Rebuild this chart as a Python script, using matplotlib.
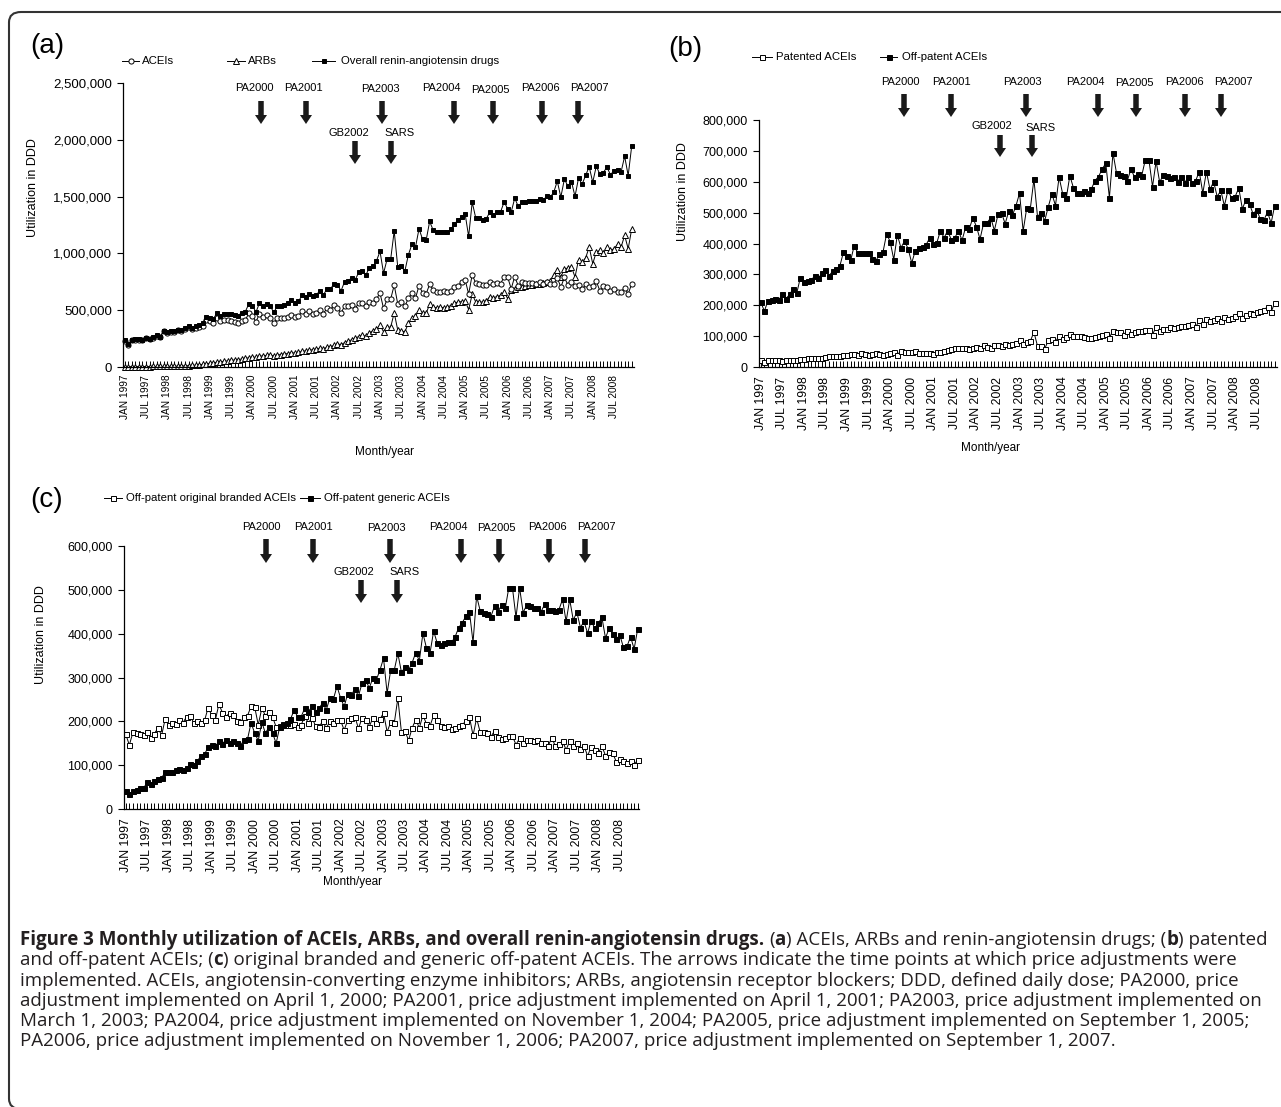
import numpy as np
import matplotlib
matplotlib.use("Agg")
import matplotlib.pyplot as plt
from matplotlib.lines import Line2D
from matplotlib.patches import Polygon, FancyBboxPatch
from matplotlib.ticker import FuncFormatter

plt.rcParams["font.family"] = ["Liberation Sans", "DejaVu Sans"]

W, H, DPI = 1281, 1107, 100

# ---------------- data (utilization, thousand DDD, JAN 1997 .. DEC 2008) ----------------
tick_labels = [f"{m} {y}" for y in range(1997, 2009) for m in ("JAN", "JUL")]

acei = [
    232, 196, 237, 241, 242, 238, 255, 243, 258, 277, 263, 315,
    302, 308, 310, 322, 315, 334, 348, 331, 347, 354, 364, 410,
    401, 387, 434, 407, 415, 411, 409, 392, 386, 409, 412, 474,
    452, 398, 468, 438, 456, 433, 384, 429, 429, 432, 442, 462,
    441, 450, 492, 470, 497, 470, 478, 503, 470, 515, 505, 545,
    520, 475, 536, 533, 545, 512, 566, 566, 539, 575, 565, 600,
    649, 515, 596, 597, 721, 555, 568, 533, 605, 653, 604, 717,
    653, 644, 728, 679, 663, 663, 666, 658, 672, 702, 717, 746,
    768, 643, 811, 739, 735, 723, 722, 749, 727, 743, 735, 791,
    791, 689, 796, 713, 745, 742, 742, 740, 730, 749, 729, 752,
    735, 731, 785, 703, 788, 723, 752, 710, 720, 684, 727, 707,
    717, 755, 672, 712, 703, 667, 688, 658, 661, 697, 644, 731,
]
arb = [
    3, 3, 3, 3, 4, 4, 4, 4, 5, 5, 5, 6,
    6, 7, 7, 8, 9, 10, 12, 14, 17, 20, 23, 28,
    33, 36, 42, 45, 50, 54, 58, 62, 66, 70, 75, 82,
    88, 85, 95, 98, 102, 108, 96, 104, 110, 115, 118, 126,
    122, 128, 138, 142, 148, 152, 158, 165, 162, 172, 178, 190,
    205, 195, 215, 225, 240, 255, 268, 280, 270, 300, 320, 335,
    368, 310, 354, 350, 477, 325, 318, 310, 383, 427, 450, 500,
    471, 471, 553, 525, 522, 528, 520, 530, 540, 560, 573, 575,
    580, 506, 640, 573, 575, 570, 585, 617, 610, 620, 630, 661,
    602, 675, 690, 700, 705, 712, 718, 725, 728, 734, 740, 749,
    760, 807, 851, 792, 865, 870, 880, 792, 944, 924, 960, 1056,
    909, 1012, 1026, 1000, 1056, 1026, 1040, 1079, 1056, 1158, 1041, 1216,
]
overall = [
    235, 199, 240, 244, 246, 242, 259, 247, 263, 282, 268, 321,
    308, 315, 317, 330, 324, 344, 360, 345, 364, 374, 387, 438,
    434, 423, 476, 452, 465, 465, 467, 454, 452, 479, 487, 556,
    540, 483, 563, 536, 558, 541, 480, 533, 539, 547, 560, 588,
    563, 578, 630, 612, 645, 622, 636, 668, 632, 687, 683, 735,
    725, 670, 751, 758, 785, 767, 834, 846, 809, 875, 885, 935,
    1017, 825, 950, 947, 1198, 880, 886, 843, 988, 1080, 1054, 1217,
    1124, 1115, 1281, 1204, 1185, 1191, 1186, 1188, 1212, 1262, 1290, 1321,
    1348, 1149, 1451, 1312, 1310, 1293, 1307, 1366, 1337, 1363, 1365, 1452,
    1393, 1364, 1486, 1413, 1450, 1454, 1460, 1465, 1458, 1483, 1469, 1501,
    1495, 1538, 1636, 1495, 1653, 1593, 1632, 1502, 1664, 1608, 1687, 1763,
    1626, 1767, 1698, 1712, 1759, 1693, 1728, 1737, 1717, 1855, 1685, 1947,
]
patented = [
    22, 15, 22, 23, 22, 22, 18, 22, 23, 24, 24, 26,
    27, 28, 28, 28, 28, 30, 33, 35, 37, 36, 37, 38,
    40, 42, 41, 38, 46, 42, 40, 42, 44, 42, 40, 43,
    46, 50, 40, 52, 48, 50, 47, 52, 44, 44, 46, 44,
    43, 47, 50, 52, 55, 58, 60, 61, 60, 62, 58, 62,
    65, 61, 70, 65, 62, 70, 72, 68, 75, 70, 74, 78,
    86, 75, 81, 84, 113, 68, 68, 59, 86, 92, 81, 102,
    92, 97, 108, 99, 100, 99, 97, 95, 95, 98, 100, 105,
    108, 95, 118, 112, 112, 105, 118, 108, 112, 118, 115, 120,
    120, 105, 130, 115, 122, 122, 130, 125, 130, 132, 132, 135,
    140, 128, 152, 140, 155, 148, 152, 158, 148, 162, 155, 160,
    165, 175, 160, 170, 175, 172, 178, 180, 185, 195, 178, 208,
]
off_patent = [
    210, 181, 215, 218, 220, 216, 237, 221, 235, 253, 239, 289,
    275, 280, 282, 294, 287, 304, 315, 296, 310, 318, 327, 372,
    361, 345, 393, 369, 369, 369, 369, 350, 342, 367, 372, 431,
    406, 348, 428, 386, 408, 383, 337, 377, 385, 388, 396, 418,
    398, 403, 442, 418, 442, 412, 418, 442, 410, 453, 447, 483,
    455, 414, 466, 468, 483, 442, 494, 498, 464, 505, 491, 522,
    563, 440, 515, 513, 608, 487, 500, 474, 519, 561, 523, 615,
    561, 547, 620, 580, 563, 564, 569, 563, 577, 604, 617, 641,
    660, 548, 693, 627, 623, 618, 604, 641, 615, 625, 620, 671,
    671, 584, 666, 598, 623, 620, 612, 615, 600, 617, 597, 617,
    595, 603, 633, 563, 633, 575, 600, 552, 572, 522, 572, 547,
    552, 580, 512, 542, 528, 495, 510, 478, 476, 502, 466, 523,
]
branded = [
    170, 146, 175, 174, 172, 168, 176, 163, 172, 185, 168, 205,
    191, 196, 194, 202, 197, 211, 212, 196, 201, 196, 202, 231,
    214, 202, 239, 220, 211, 219, 215, 200, 198, 209, 213, 234,
    233, 192, 230, 213, 221, 210, 187, 190, 193, 191, 191, 193,
    187, 192, 212, 196, 208, 190, 188, 200, 184, 200, 196, 203,
    202, 180, 203, 207, 210, 184, 207, 203, 188, 207, 196, 205,
    219, 176, 198, 196, 253, 175, 177, 157, 185, 204, 185, 214,
    194, 190, 214, 202, 189, 186, 189, 183, 184, 190, 192, 201,
    210, 168, 207, 175, 175, 173, 165, 178, 165, 159, 162, 166,
    166, 147, 161, 150, 157, 158, 154, 157, 150, 150, 144, 163,
    143, 148, 155, 135, 155, 144, 151, 138, 144, 121, 142, 135,
    128, 143, 122, 130, 128, 108, 113, 109, 105, 109, 101, 112,
]
generic = [
    40, 35, 40, 44, 48, 48, 61, 58, 63, 68, 71, 84,
    84, 84, 88, 92, 90, 93, 103, 100, 109, 122, 125, 141,
    147, 143, 154, 149, 158, 150, 154, 150, 144, 158, 159, 197,
    173, 156, 198, 173, 187, 173, 150, 187, 192, 197, 205, 225,
    211, 211, 230, 222, 234, 222, 230, 242, 226, 253, 251, 280,
    253, 234, 263, 261, 273, 258, 287, 295, 276, 298, 295, 317,
    344, 264, 317, 317, 355, 312, 323, 317, 334, 357, 338, 401,
    367, 357, 406, 378, 374, 378, 380, 380, 393, 414, 425, 440,
    450, 380, 486, 452, 448, 445, 439, 463, 450, 466, 458, 505,
    505, 437, 505, 448, 466, 462, 458, 458, 450, 467, 453, 454,
    452, 455, 478, 428, 478, 431, 449, 414, 428, 401, 430, 412,
    424, 437, 390, 412, 400, 387, 397, 369, 371, 393, 365, 411,
]

# event arrows: label, text x, text y, arrow x, arrow top, arrow bottom (pixels)
events_a = [
    ("PA2000", 254, 88, 261, 101, 124), ("PA2001", 303, 88, 306, 101, 124),
    ("PA2003", 380, 89, 382, 101, 124), ("PA2004", 441, 88, 454, 101, 124),
    ("PA2005", 490, 90, 493, 101, 124), ("PA2006", 540, 88, 542, 101, 124),
    ("PA2007", 589, 88, 578, 101, 124), ("GB2002", 349, 133, 355, 141, 164),
    ("SARS", 400, 133, 391, 141, 164),
]
events_b = [
    ("PA2000", 900, 82, 904, 94, 117), ("PA2001", 951, 82, 951, 94, 117),
    ("PA2003", 1022, 82, 1026, 94, 117), ("PA2004", 1085, 82, 1098, 94, 117),
    ("PA2005", 1134, 83, 1136, 94, 117), ("PA2006", 1184, 82, 1185, 94, 117),
    ("PA2007", 1233, 82, 1221, 94, 117), ("GB2002", 992, 126, 1000, 135, 157),
    ("SARS", 1041, 128, 1032, 135, 157),
]
events_c = [
    ("PA2000", 261, 527, 266, 539, 563), ("PA2001", 313, 527, 313, 539, 563),
    ("PA2003", 386, 528, 390, 539, 563), ("PA2004", 448, 527, 461, 539, 563),
    ("PA2005", 496, 528, 499, 539, 563), ("PA2006", 547, 527, 549, 539, 563),
    ("PA2007", 596, 527, 585, 539, 563), ("GB2002", 354, 572, 361, 580, 603),
    ("SARS", 405, 572, 397, 580, 603),
]

CAPTION = [
    [("Figure 3 Monthly utilization of ACEIs, ARBs, and overall renin-angiotensin drugs.", True),
     (" (", False), ("a", True), (") ACEIs, ARBs and renin-angiotensin drugs; (", False),
     ("b", True), (") patented", False)],
    [("and off-patent ACEIs; (", False), ("c", True),
     (") original branded and generic off-patent ACEIs. The arrows indicate the time points at which price adjustments were", False)],
    [("implemented. ACEIs, angiotensin-converting enzyme inhibitors; ARBs, angiotensin receptor blockers; DDD, defined daily dose; PA2000, price", False)],
    [("adjustment implemented on April 1, 2000; PA2001, price adjustment implemented on April 1, 2001; PA2003, price adjustment implemented on", False)],
    [("March 1, 2003; PA2004, price adjustment implemented on November 1, 2004; PA2005, price adjustment implemented on September 1, 2005;", False)],
    [("PA2006, price adjustment implemented on November 1, 2006; PA2007, price adjustment implemented on September 1, 2007.", False)],
]

months = np.arange(len(overall))

fig = plt.figure(figsize=(W / DPI, H / DPI), dpi=DPI)
fig.patch.set_facecolor("white")


def fx(px):
    return px / W


def fy(py):
    return 1 - py / H


def make_axes(left, top, right, bottom):
    return fig.add_axes([fx(left), fy(bottom), (right - left) / W, (bottom - top) / H])


def style_axes(ax, ymax, ystep, ysize, xsize, xpad):
    ax.set_xlim(-0.5, 143.5)
    ax.set_ylim(0, ymax)
    ax.patch.set_alpha(0)
    for side in ("top", "right"):
        ax.spines[side].set_visible(False)
    for side in ("left", "bottom"):
        ax.spines[side].set_linewidth(0.9)
    ax.set_xticks(np.arange(0, len(months), 6))
    ax.set_xticklabels(tick_labels, rotation=90, fontsize=xsize)
    ax.set_xticks(months, minor=True)
    ax.tick_params(axis="x", which="both", direction="in", length=4, width=0.7, pad=xpad)
    ax.set_yticks(np.arange(0, ymax + 1, ystep))
    ax.yaxis.set_major_formatter(FuncFormatter(lambda v, _: f"{int(v):,}"))
    ax.tick_params(axis="y", direction="out", length=4, width=0.8, labelsize=ysize, pad=4)


def series(ax, values, marker, filled, ms):
    ax.plot(months, np.array(values) * 1000, color="black", lw=0.7, marker=marker, ms=ms,
            mfc="black" if filled else "white", mec="black", mew=0.7, clip_on=False)


def arrows(events, size=8):
    sw, hw, hl = 5.5, 12, 9
    for label, tx, ty, ax_, top, bot in events:
        fig.text(fx(tx), fy(ty), label, fontsize=size, ha="center", va="center")
        pts = [(ax_ - sw / 2, top), (ax_ + sw / 2, top), (ax_ + sw / 2, bot - hl),
               (ax_ + hw / 2, bot - hl), (ax_, bot), (ax_ - hw / 2, bot - hl),
               (ax_ - sw / 2, bot - hl)]
        fig.add_artist(Polygon([(fx(x), fy(y)) for x, y in pts], closed=True,
                               transform=fig.transFigure, fc="#1a1a1a", ec="none"))


def legend_entry(x0, x1, y, marker, filled, ms, label, tx, size=8.2):
    fig.add_artist(Line2D([fx(x0), fx(x1)], [fy(y), fy(y)], transform=fig.transFigure,
                          color="black", lw=0.7))
    fig.add_artist(Line2D([fx((x0 + x1) / 2)], [fy(y)], transform=fig.transFigure, ls="none",
                          marker=marker, ms=ms, mfc="black" if filled else "white",
                          mec="black", mew=0.7))
    fig.text(fx(tx), fy(y), label, fontsize=size, ha="left", va="center")


# ---------------- panel (a) ----------------
ax_a = make_axes(123, 83, 633.5, 367)
style_axes(ax_a, 2500000, 500000, 9.5, 7.3, 5.5)
series(ax_a, arb, "^", False, 4.2)
series(ax_a, acei, "o", False, 3.7)
series(ax_a, overall, "s", True, 3.4)
fig.text(fx(47), fy(46), "(a)", fontsize=20, ha="center", va="center")
legend_entry(122, 139, 61, "o", False, 3.7, "ACEIs", 142)
legend_entry(227, 245, 61, "^", False, 4.2, "ARBs", 248)
legend_entry(312, 335, 61, "s", True, 3.4, "Overall renin-angiotensin drugs", 341)
fig.text(fx(33), fy(188), "Utilization in DDD", fontsize=9, rotation=90, ha="center", va="center")
fig.text(fx(385), fy(452), "Month/year", fontsize=8.5, ha="center", va="center")
arrows(events_a)

# ---------------- panel (b) ----------------
ax_b = make_axes(759, 120, 1276.5, 367)
style_axes(ax_b, 800000, 100000, 9, 8.8, 7)
series(ax_b, patented, "s", False, 3.6)
series(ax_b, off_patent, "s", True, 3.6)
fig.text(fx(685), fy(49), "(b)", fontsize=20, ha="center", va="center")
legend_entry(752, 772, 57, "s", False, 3.6, "Patented ACEIs", 776)
legend_entry(880, 897, 57, "s", True, 3.6, "Off-patent ACEIs", 902)
fig.text(fx(683), fy(192), "Utilization in DDD", fontsize=9, rotation=90, ha="center", va="center")
fig.text(fx(990), fy(448), "Month/year", fontsize=8.5, ha="center", va="center")
arrows(events_b)

# ---------------- panel (c) ----------------
ax_c = make_axes(124, 546, 639.5, 809)
style_axes(ax_c, 600000, 100000, 9, 8.8, 7)
series(ax_c, branded, "s", False, 3.6)
series(ax_c, generic, "s", True, 3.6)
fig.text(fx(47), fy(500), "(c)", fontsize=20, ha="center", va="center")
legend_entry(104, 122, 498, "s", False, 3.6, "Off-patent original branded ACEIs", 126)
legend_entry(300, 320, 498, "s", True, 3.6, "Off-patent generic ACEIs", 324)
fig.text(fx(41), fy(635), "Utilization in DDD", fontsize=9, rotation=90, ha="center", va="center")
fig.text(fx(352), fy(882), "Month/year", fontsize=8.5, ha="center", va="center")
arrows(events_c)

# ---------------- outer frame ----------------
frame = FancyBboxPatch((fx(9), fy(1109)), fx(1400), (1109 - 12) / H,
                       boxstyle=f"round,pad=0,rounding_size={12 / W}",
                       transform=fig.transFigure, fc="none", ec="#333333", lw=1.5)
fig.add_artist(frame)

# ---------------- caption ----------------
CAP_FONT = ["Open Sans", "DejaVu Sans"]
renderer = fig.canvas.get_renderer()


def text_width(s, bold, size):
    t = fig.text(0, 0, s, fontsize=size, family=CAP_FONT,
                 fontweight="bold" if bold else "normal")
    w = t.get_window_extent(renderer).width
    t.remove()
    return w


# size the caption so the 4th line runs from x=20 to about x=1255, as in the figure
CAP_SIZE = 12 * 1235 / text_width(CAPTION[3][0][0], False, 12)
space_w = {b: text_width("a a", b, CAP_SIZE) - text_width("aa", b, CAP_SIZE) for b in (True, False)}

y = 940
for parts in CAPTION:
    x = 20
    for s, bold in parts:
        x += (len(s) - len(s.lstrip(" "))) * space_w[bold]
        core = s.strip(" ")
        t = fig.text(fx(x), fy(y), core, fontsize=CAP_SIZE, family=CAP_FONT,
                     fontweight="bold" if bold else "normal", ha="left", va="center",
                     color="#231f20")
        x += t.get_window_extent(renderer).width
        x += (len(s) - len(s.rstrip(" "))) * space_w[bold]
    y += 20.3

fig.savefig("out.png", dpi=DPI)
